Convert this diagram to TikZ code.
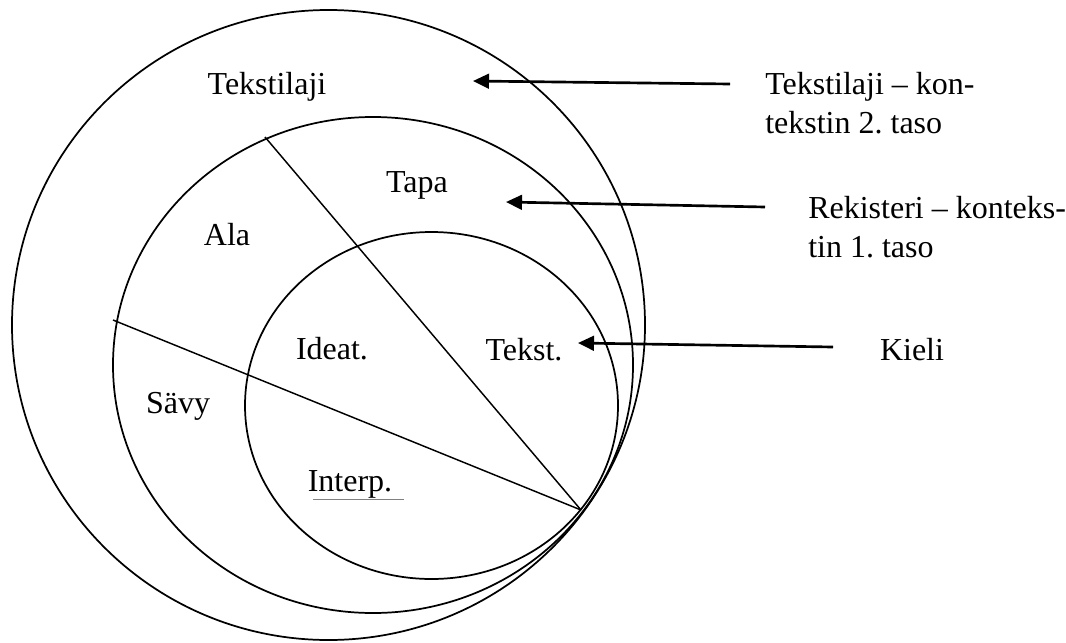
\documentclass[tikz,border=0pt]{standalone}
\usepackage{fontspec}
\setmainfont{Liberation Serif}
\usepackage{tikz}
\usetikzlibrary{arrows.meta}
\frenchspacing

\tikzset{
    ring/.style={line width=1.3pt},
    cut/.style={line width=1.1pt},
    pointer/.style={line width=2pt, -{Triangle[length=12pt,width=11pt]}},
    word/.style={font=\fontsize{24}{29}\selectfont, inner sep=0pt},
}

\begin{document}
\begin{tikzpicture}[x=0.75pt, y=-0.75pt]
        \useasboundingbox (0,0) rectangle (1066,642);

        % Draw the three ellipses (genre, register, language)
        \draw[ring] (328.5,325) ellipse [x radius=316.5, y radius=315];
        \draw[ring] (373,365) ellipse [x radius=260, y radius=248];
        \draw[ring] (431.5,405.5) ellipse [x radius=186.5, y radius=173.5];

        % Draw the two cuts meeting at the common point
        \coordinate (meet) at (581,510);
        \coordinate (cutA) at (265,137);
        \coordinate (cutB) at (113,320);
        \draw[cut] (cutA) -- (meet);
        \draw[cut] (cutB) -- (meet);

        % Label the regions
        \node[word, anchor=base] (genre) at (267,94) {Tekstilaji};
        \node[word, anchor=base] (tapa) at (417,192) {Tapa};
        \node[word, anchor=base] (ala) at (227,245) {Ala};
        \node[word, anchor=base] (ideat) at (332,359) {Ideat.};
        \node[word, anchor=base] (tekst) at (524,360) {Tekst.};
        \node[word, anchor=base] (savy) at (178,413) {Sävy};
        \node[word, anchor=base] (interp) at (350,491) {Interp.};
        \draw[gray, line width=0.5pt] (313,499) -- (404,499);

        % Label the levels on the right
        \node[word, anchor=base west] (levelA1) at (765,94) {Tekstilaji – kon-};
        \node[word, anchor=base west] (levelA2) at (765,133) {tekstin 2. taso};
        \node[word, anchor=base west] (levelB1) at (808,218) {Rekisteri – konteks-};
        \node[word, anchor=base west] (levelB2) at (808,257) {tin 1. taso};
        \node[word, anchor=base] (kieli) at (912,360) {Kieli};

        % Draw the arrows
        \coordinate (fromA) at (730,84);
        \coordinate (toA) at (473,81);
        \coordinate (fromB) at (765,207);
        \coordinate (toB) at (506,202);
        \coordinate (fromC) at (833,347);
        \coordinate (toC) at (578,343);
        \draw[pointer] (fromA) -- (toA);
        \draw[pointer] (fromB) -- (toB);
        \draw[pointer] (fromC) -- (toC);
    \end{tikzpicture}
\end{document}
